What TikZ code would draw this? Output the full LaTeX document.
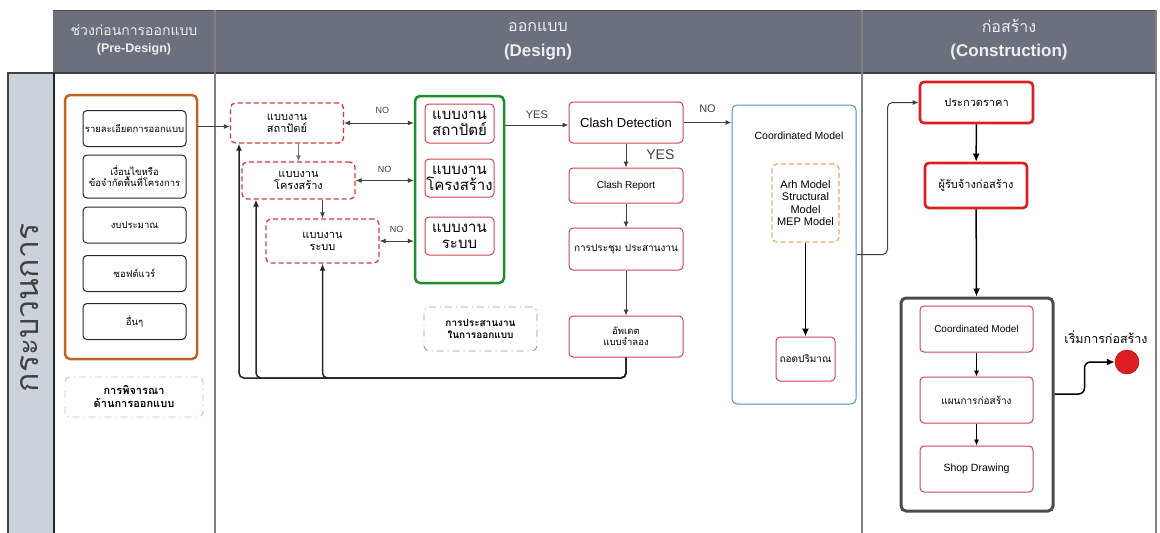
\documentclass[tikz,border=0pt]{standalone}
\usepackage{fontspec}
\setmainfont{Liberation Sans}
\newfontfamily\thai[Script=Thai]{Loma}
\usetikzlibrary{positioning,arrows.meta,calc}

\definecolor{hdrgray}{RGB}{107,112,124}
\definecolor{hdrtext}{RGB}{238,238,242}
\definecolor{lanegray}{RGB}{204,210,220}
\definecolor{preorange}{RGB}{196,98,36}
\definecolor{dashred}{RGB}{205,60,60}
\definecolor{thinred}{RGB}{200,70,80}
\definecolor{grn}{RGB}{30,140,45}
\definecolor{cmblue}{RGB}{80,140,200}
\definecolor{mdlorange}{RGB}{230,170,100}
\definecolor{boldred}{RGB}{220,30,35}
\definecolor{beige}{RGB}{200,195,170}

\tikzset{
  hdr/.style={text=hdrtext, inner sep=0pt},
  prebox/.style={draw=black!85, line width=1pt, rounded corners=4pt, align=center,
    minimum width=103pt, minimum height=36pt, inner sep=1pt, font=\thai\fontsize{9.5}{11}\selectfont},
  dashbox/.style={draw=dashred, dashed, dash pattern=on 5pt off 3pt, line width=1.3pt, rounded corners=5pt,
    align=center, minimum width=113pt, inner sep=1pt, font=\thai\fontsize{11}{12}\selectfont},
  redbox/.style={draw=thinred, line width=1pt, rounded corners=4pt, align=center, inner sep=1pt},
  bidbox/.style={draw=boldred, line width=2.6pt, rounded corners=4pt, align=center, inner sep=1pt,
    font=\thai\fontsize{11}{12}\selectfont},
  notebox/.style={dash pattern=on 7pt off 4pt on 1pt off 4pt, line width=0.9pt, rounded corners=5pt,
    align=center, inner sep=1pt},
  lbl/.style={inner sep=0pt, font=\fontsize{9}{10}\selectfont},
  arr/.style={-{Latex[length=6pt,width=5pt]}, line width=0.8pt, black!75},
  barr/.style={{Latex[length=6pt,width=5pt]}-{Latex[length=6pt,width=5pt]}, line width=0.8pt, black!75},
  fb/.style={-{Latex[length=7pt,width=6pt]}, line width=1.5pt, black!85, rounded corners=5pt},
  thk/.style={-{Latex[length=8pt,width=7pt]}, line width=1.5pt, black}
}

\begin{document}
\begin{tikzpicture}[x=1pt,y=-1pt]
\useasboundingbox (0,0) rectangle (1160,533);

% header and lane
\fill[hdrgray] (53,10) rectangle (1156,73);
\draw[black!70, line width=1pt] (53,10) -- (1156,10);
\fill[lanegray] (8,73) rectangle (54,533);
\draw[black!75, line width=1.2pt] (8,533) -- (8,73) -- (1156,73);
\draw[black!85, line width=1.5pt] (54,73) -- (54,533);
\draw[black!50, line width=1.2pt] (215,10) -- (215,533);
\draw[black!50, line width=1.2pt] (862,10) -- (862,533);
\draw[black!50, line width=1.2pt] (1156,10) -- (1156,533);

\node[hdr, font=\thai\fontsize{14}{15}\selectfont] (hpre1) at (134,30) {ช่วงก่อนการออกแบบ};
\node[hdr, font=\bfseries\fontsize{12.5}{14}\selectfont] (hpre2) at (134,49) {(Pre-Design)};
\node[hdr, font=\thai\fontsize{16}{18}\selectfont] (hdes1) at (538,27) {ออกแบบ};
\node[hdr, font=\bfseries\fontsize{17}{19}\selectfont] (hdes2) at (538,52) {(Design)};
\node[hdr, font=\thai\fontsize{16}{18}\selectfont] (hcon1) at (1009,26) {ก่อสร้าง};
\node[hdr, font=\bfseries\fontsize{17}{19}\selectfont] (hcon2) at (1009,52) {(Construction)};
\node[rotate=90, text=black!75, inner sep=0pt, font=\thai\fontsize{32}{34}\selectfont] (lane) at (30,308) {กระบวนการ};

% pre-design
\node[draw=preorange, line width=2.5pt, rounded corners=5pt, minimum width=132pt, minimum height=264pt] (pre) at (131,227) {};
\node[prebox] (p1) at (134.5,128.5) {รายละเอียดการออกแบบ};
\node[prebox, minimum height=43pt] (p2) at (134.5,176.5) {เงื่อนไขหรือ\\ข้อจำกัดพื้นที่โครงการ};
\node[prebox] (p3) at (134.5,225) {งบประมาณ};
\node[prebox] (p4) at (134.5,273.5) {ซอฟต์แวร์};
\node[prebox] (p5) at (134.5,321.5) {อื่นๆ};
\node[notebox, draw=beige, minimum width=138pt, minimum height=40pt, font=\thai\bfseries\fontsize{11}{13}\selectfont] (consider) at (134,397) {การพิจารณา\\ด้านการออกแบบ};

% design
\node[dashbox, minimum height=40pt] (d1) at (287,123) {แบบงาน\\สถาปัตย์};
\node[dashbox, minimum height=37pt] (d2) at (298.5,180.5) {แบบงาน\\โครงสร้าง};
\node[dashbox, minimum height=44pt] (d3) at (322.5,241) {แบบงาน\\ระบบ};
\node[draw=grn, line width=2.5pt, rounded corners=5pt, minimum width=89pt, minimum height=187pt] (green) at (459.5,189.5) {};
\node[redbox, minimum width=69pt, minimum height=39pt, font=\thai\fontsize{15}{16}\selectfont] (g1) at (459.5,123.5) {แบบงาน\\สถาปัตย์};
\node[redbox, minimum width=69pt, minimum height=38pt, font=\thai\fontsize{15}{16}\selectfont] (g2) at (459.5,178) {แบบงาน\\โครงสร้าง};
\node[redbox, minimum width=69pt, minimum height=38pt, font=\thai\fontsize{15}{16}\selectfont] (g3) at (459.5,236) {แบบงาน\\ระบบ};
\node[notebox, draw=black!40, minimum width=113pt, minimum height=44pt, font=\thai\bfseries\fontsize{10}{11.5}\selectfont] (coop) at (480.5,329) {การประสานงาน\\ในการออกแบบ};

\node[redbox, minimum width=114pt, minimum height=41pt, font=\fontsize{13}{14}\selectfont] (clash) at (626,122.5) {Clash Detection};
\node[redbox, minimum width=114pt, minimum height=35pt, font=\fontsize{10}{11}\selectfont] (report) at (626,185.5) {Clash Report};
\node[redbox, minimum width=114pt, minimum height=42pt, font=\thai\fontsize{10}{11}\selectfont] (meet) at (626,249) {การประชุม ประสานงาน};
\node[redbox, minimum width=114pt, minimum height=41pt, font=\thai\fontsize{9.5}{11}\selectfont] (upd) at (626,336.5) {อัพเดต\\แบบจำลอง};

\node[draw=cmblue, line width=1pt, rounded corners=5pt, minimum width=124pt, minimum height=299pt] (cm) at (794,254.5) {};
\node[inner sep=0pt, font=\fontsize{10.5}{12}\selectfont] (cmlbl) at (799,136) {Coordinated Model};
\node[draw=mdlorange, dashed, dash pattern=on 5pt off 3pt, line width=1.2pt, rounded corners=5pt, align=center,
  minimum width=67pt, minimum height=78pt, inner sep=1pt, font=\fontsize{11}{12.5}\selectfont] (models) at (805.5,203) {Arh Model\\Structural\\Model\\MEP Model};
\node[redbox, minimum width=59pt, minimum height=44pt, font=\thai\fontsize{10}{11}\selectfont] (takeoff) at (805.5,359) {ถอดปริมาณ};

% construction
\node[bidbox, minimum width=113pt, minimum height=41pt] (bid) at (976.5,102.5) {ประกวดราคา};
\node[bidbox, minimum width=102pt, minimum height=45pt] (contr) at (976,185.5) {ผู้รับจ้างก่อสร้าง};
\node[draw=black!70, line width=3pt, rounded corners=5pt, minimum width=152pt, minimum height=213pt] (big) at (977,404.5) {};
\node[redbox, minimum width=113pt, minimum height=46pt, font=\fontsize{10}{11}\selectfont] (cm2) at (976.5,329) {Coordinated Model};
\node[redbox, minimum width=113pt, minimum height=46pt, font=\thai\fontsize{10}{11}\selectfont] (plan) at (976.5,400) {แผนการก่อสร้าง};
\node[redbox, minimum width=113pt, minimum height=46pt, font=\fontsize{10.5}{11}\selectfont] (shop) at (976.5,469) {Shop Drawing};
\node[circle, fill=boldred, draw=boldred!70!black, line width=0.5pt, minimum size=24pt, inner sep=0pt] (dot) at (1127,362) {};
\node[inner sep=0pt, font=\thai\fontsize{12.5}{14}\selectfont] (start) at (1106,337) {เริ่มการก่อสร้าง};

% connectors
\draw[arr] (pre.east |- 0,126.5) -- (d1.west |- 0,126.5);
\draw[arr, black!55] (d2.north |- d1.south) -- (d2.north);
\draw[arr] (d3.north |- d2.south) -- (d3.north);
\draw[barr] (d1.east) -- (green.west |- d1.east) node[lbl, pos=0.55, above=9pt] (no1) {NO};
\draw[barr] (d2.east) -- (green.west |- d2.east) node[lbl, pos=0.5, above=8pt] (no2) {NO};
\draw[barr] (d3.east) -- (green.west |- d3.east) node[lbl, pos=0.5, above=8pt] (no3) {NO};
\draw[arr, line width=1pt] (green.east |- 0,125) -- (clash.west |- 0,125) node[lbl, midway, above=6pt, font=\fontsize{11}{12}\selectfont] (yes1) {YES};
\draw[arr] (clash) -- (report) node[lbl, right=20pt, pos=0.45, font=\fontsize{14}{15}\selectfont] (yes2) {YES};
\draw[arr] (report) -- (meet);
\draw[arr] (meet) -- (upd);
\draw[arr, line width=1pt] (clash.east) -- (cm.west |- clash.east) node[lbl, midway, above=9pt, font=\fontsize{11}{12}\selectfont] (no4) {NO};

\coordinate (fb1) at (239,378);
\coordinate (fb2) at (256,378);
\draw[fb] (upd.south) |- (fb1) -- (fb1 |- d1.south);
\draw[fb] (upd.south) |- (fb2) -- (fb2 |- d2.south);
\draw[fb] (upd.south) |- (d3.south |- fb1) -- (d3.south);

\draw[thk] (models) -- (takeoff);
\draw[arr, rounded corners=5pt, line width=1pt] (cm.east) -- ++(31,0) |- (bid.west);
\draw[thk] (bid) -- (contr);
\draw[thk] (contr) -- (big);
\draw[arr, black] (cm2) -- (plan);
\draw[arr, black] (plan) -- (shop);
\draw[thk, rounded corners=6pt] (big.east |- 0,394) -- ++(30,0) |- (dot.west);
\end{tikzpicture}
\end{document}
